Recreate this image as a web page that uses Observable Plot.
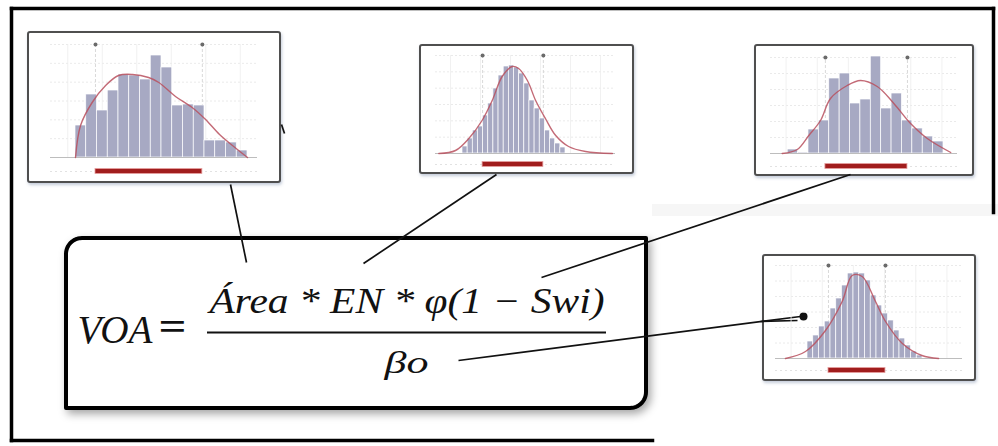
<!DOCTYPE html>
<html>
<head>
<meta charset="utf-8">
<script src="https://cdn.jsdelivr.net/npm/d3@7"></script>
<script src="https://cdn.jsdelivr.net/npm/@observablehq/plot@0.6"></script>
<style>
html,body{margin:0;padding:0;background:#fff;}
#wrap{position:relative;width:998px;height:446px;overflow:hidden;background:#fff;}
#wrap svg{position:absolute;max-width:none;overflow:visible;}
</style>
</head>
<body>
<div id="wrap"></div>
<script>
// ---------------- DATA ----------------
// Formula text
const formulaLHS = "VOA";
const formulaEq = "=";
const formulaNumerator = "Área * EN * φ(1 − Swi)";
const formulaDenominator = "βo";

// Histogram 1 (top-left): bar heights per bin, fitted curve [bin, height], P-range [bin, bin]
const hist1Counts = [32, 63, 47, 67, 83, 82, 78, 102, 90, 52, 53, 52, 17, 17, 15, 7];
const hist1Curve = [[0,0],[0.47,32],[1.55,55],[2.8,72],[4.0,82],[5.3,83],[6.8,80],[7.75,75],[9.3,61],[10.85,50],[12.1,38],[13.4,23],[14.6,12],[16,0]];
const hist1Range = [1.86, 11.8];

// Histogram 2 (top-middle)
const hist2Counts = [7, 15, 23, 27, 38, 50, 65, 78, 87, 88, 86, 80, 70, 53, 45, 35, 23, 15, 10, 6];
const hist2Curve = [[-4.6,0],[-1.36,3],[1.23,15],[3.8,33],[5.77,53],[7.7,77],[9.65,87],[10.9,85],[12.6,73],[14.2,53],[16.1,35],[18.1,18],[20.6,7],[23.9,2],[29.1,0]];
const hist2Range = [3.9, 15.7];

// Histogram 3 (top-right)
const hist3Counts = [4, 1, 24, 33, 75, 80, 50, 54, 97, 45, 60, 33, 25, 17, 12];
const hist3Curve = [[-0.53,0],[0.92,4],[2.03,18],[3.16,33],[4.12,55],[5.73,68],[7.01,73],[8.62,67],[10.22,50],[11.83,30],[13.44,15],[15.7,1]];
const hist3Range = [3.63, 11.53];

// Histogram 4 (bottom-right)
const hist4Counts = [17, 23, 32, 37, 50, 60, 73, 85, 86, 85, 78, 63, 53, 45, 38, 28, 20, 13, 7, 3];
const hist4Curve = [[-3.83,0],[-0.35,7],[3.13,28],[6.03,57],[7.77,83],[9.51,82],[11.83,57],[13.57,37],[16.5,15],[19.9,3],[22.8,0]];
const hist4Range = [3.65, 13.56];

// ---------------- LAYOUT (pixels) ----------------
const W = 998, H = 446;
const layout = {
  border: [
    {x1: 11, y1: 8, x2: 993, y2: 8},
    {x1: 11, y1: 8, x2: 11, y2: 440},
    {x1: 993, y1: 8, x2: 993, y2: 212},
    {x1: 11, y1: 440, x2: 652, y2: 440}
  ],
  band: [{x1: 652, x2: 998, y1: 204, y2: 216}],
  box: {x0: 66, y0: 238, x1: 646, y1: 408, r: 16},
  connectors: [
    {x1: 230, y1: 184, x2: 246, y2: 262},
    {x1: 496, y1: 174, x2: 363, y2: 263},
    {x1: 850, y1: 174, x2: 541, y2: 277},
    {x1: 458, y1: 360, x2: 800, y2: 316},
    {x1: 760, y1: 321, x2: 797, y2: 320},
    {x1: 281, y1: 124, x2: 284, y2: 133}
  ],
  arrowDot: [{x: 803, y: 316}],
  fraction: [{x1: 207, x2: 606, y: 332}],
  texts: {
    lhs: {x: 77, y: 330, size: 40, width: 75, anchor: "start"},
    eq: {x: 172, y: 327, size: 40, width: 28, anchor: "middle"},
    num: {x: 406.5, y: 301, size: 35, width: 395, anchor: "middle"},
    den: {x: 406, y: 362, size: 32, width: 44, anchor: "middle"}
  },
  thumbs: [
    {frame: [28, 32, 280, 182], bx0: 75, bx1: 247, by: 157, top: 44, rangeY: 171, plotX: [50, 257]},
    {frame: [420, 45, 633, 173], bx0: 462, bx1: 565, by: 153, top: 55, rangeY: 164, plotX: [435, 615]},
    {frame: [755, 45, 973, 175], bx0: 787.2, bx1: 943, by: 153, top: 57, rangeY: 166, plotX: [770, 957]},
    {frame: [763, 255, 975, 380], bx0: 807, bx1: 922, by: 358, top: 265, rangeY: 370, plotX: [775, 962]}
  ]
};

const serif = "'Liberation Serif', 'DejaVu Serif', serif";

// rounded box outline (top-left and bottom-right corners rounded)
function boxOutline(b) {
  const pts = [];
  const arc = (cx, cy, a0, a1) => {
    for (let k = 0; k <= 12; k++) {
      const a = a0 + (a1 - a0) * k / 12;
      pts.push([cx + b.r * Math.cos(a), cy + b.r * Math.sin(a)]);
    }
  };
  pts.push([b.x0 + b.r, b.y0]);
  pts.push([b.x1, b.y0]);
  pts.push([b.x1, b.y1 - b.r]);
  arc(b.x1 - b.r, b.y1 - b.r, 0, Math.PI / 2);
  pts.push([b.x0, b.y1]);
  pts.push([b.x0, b.y0 + b.r]);
  arc(b.x0 + b.r, b.y0 + b.r, Math.PI, 1.5 * Math.PI);
  return pts;
}

const frames = layout.thumbs.map(t => ({x1: t.frame[0], y1: t.frame[1], x2: t.frame[2], y2: t.frame[3]}));
const T = layout.texts;

const bg = Plot.plot({
  width: W, height: H,
  marginTop: 0, marginRight: 0, marginBottom: 0, marginLeft: 0,
  x: {domain: [0, W], range: [0, W], axis: null},
  y: {domain: [0, H], range: [0, H], axis: null},
  style: {background: "transparent", overflow: "visible"},
  marks: [
    Plot.rect(layout.band, {x1: "x1", x2: "x2", y1: "y1", y2: "y2", fill: "#f6f6f6"}),
    Plot.link(layout.border, {x1: "x1", y1: "y1", x2: "x2", y2: "y2", stroke: "#000", strokeWidth: 3.5, strokeLinecap: "square"}),
    Plot.rect(frames, {x1: "x1", x2: "x2", y1: "y1", y2: "y2", fill: "white", stroke: "#505050", strokeWidth: 2, rx: 2, ariaLabel: () => "thumb-frame"}),
    Plot.link(layout.connectors, {x1: "x1", y1: "y1", x2: "x2", y2: "y2", stroke: "#111", strokeWidth: 1.7, ariaLabel: () => "connector"}),
    Plot.dot(layout.arrowDot, {x: "x", y: "y", r: 4, fill: "#111"}),
    Plot.ruleY(layout.fraction, {x1: "x1", x2: "x2", y: "y", stroke: "#111", strokeWidth: 2}),
    Plot.text([formulaLHS], {x: T.lhs.x, y: T.lhs.y, text: d => d, fontSize: T.lhs.size, fontFamily: serif, fontStyle: "italic", textAnchor: T.lhs.anchor, fill: "#111", ariaLabel: () => "f-lhs"}),
    Plot.text([formulaEq], {x: T.eq.x, y: T.eq.y, text: d => d, fontSize: T.eq.size, fontFamily: serif, fontWeight: "bold", textAnchor: T.eq.anchor, fill: "#111", ariaLabel: () => "f-eq"}),
    Plot.text([formulaNumerator], {x: T.num.x, y: T.num.y, text: d => d, fontSize: T.num.size, fontFamily: serif, fontStyle: "italic", textAnchor: T.num.anchor, fill: "#111", ariaLabel: () => "f-num"}),
    Plot.text([formulaDenominator], {x: T.den.x, y: T.den.y, text: d => d, fontSize: T.den.size, fontFamily: serif, fontStyle: "italic", textAnchor: T.den.anchor, fill: "#111", ariaLabel: () => "f-den"})
  ]
});

const sel = d3.select(bg);
// shadow filters
const defs = sel.insert("defs", ":first-child");
const f1 = defs.append("filter").attr("id", "boxShadow").attr("x", "-10%").attr("y", "-20%").attr("width", "125%").attr("height", "150%");
f1.append("feDropShadow").attr("dx", 3).attr("dy", 4).attr("stdDeviation", 4).attr("flood-color", "#000").attr("flood-opacity", 0.35);
const f2 = defs.append("filter").attr("id", "frameShadow").attr("x", "-5%").attr("y", "-5%").attr("width", "115%").attr("height", "120%");
f2.append("feDropShadow").attr("dx", 1).attr("dy", 2).attr("stdDeviation", 1.5).attr("flood-color", "#5a6e96").attr("flood-opacity", 0.35);
sel.selectAll('[aria-label="thumb-frame"]').attr("filter", "url(#frameShadow)");

// formula box drawn through the plot's own scales, placed just under the connectors
const sx = bg.scale("x"), sy = bg.scale("y");
const boxLine = d3.line().x(p => sx.apply(p[0])).y(p => sy.apply(p[1]));
const connEl = bg.querySelector('[aria-label="connector"]');
const connGroup = connEl ? connEl.parentNode : null;
const boxPath = document.createElementNS("http://www.w3.org/2000/svg", "path");
boxPath.setAttribute("d", boxLine(boxOutline(layout.box)) + "Z");
boxPath.setAttribute("fill", "white");
boxPath.setAttribute("stroke", "#000");
boxPath.setAttribute("stroke-width", 4);
boxPath.setAttribute("stroke-linejoin", "round");
boxPath.setAttribute("filter", "url(#boxShadow)");
if (connGroup && connGroup.parentNode) connGroup.parentNode.insertBefore(boxPath, connGroup);
else bg.appendChild(boxPath);

[["f-lhs", T.lhs], ["f-eq", T.eq], ["f-num", T.num], ["f-den", T.den]].forEach(([name, cfg]) => {
  sel.selectAll(`[aria-label="${name}"]`).attr("textLength", cfg.width).attr("lengthAdjust", "spacingAndGlyphs");
});
bg.style.left = "0px";
bg.style.top = "0px";
document.getElementById("wrap").appendChild(bg);

// ---------------- thumbnails ----------------
const histData = [
  {counts: hist1Counts, curve: hist1Curve, range: hist1Range},
  {counts: hist2Counts, curve: hist2Curve, range: hist2Range},
  {counts: hist3Counts, curve: hist3Curve, range: hist3Range},
  {counts: hist4Counts, curve: hist4Curve, range: hist4Range}
];

histData.forEach((h, i) => {
  const t = layout.thumbs[i];
  const [fx, fy, fx2, fy2] = t.frame;
  const fw = fx2 - fx, fh = fy2 - fy;
  const n = h.counts.length;
  const binW = (t.bx1 - t.bx0) / n;
  const uL = (t.plotX[0] - t.bx0) / binW, uR = (t.plotX[1] - t.bx0) / binW;
  const topH = t.by - t.top;
  const rangeH = t.by - t.rangeY;
  const gridY = d3.range(0, topH + 1, topH / 6);
  const gridX = d3.range(0, 6).map(k => uL + (uR - uL) * (k + 0.5) / 6);
  const bars = h.counts.map((c, k) => ({k, c}));
  const chart = Plot.plot({
    width: fw, height: fh,
    marginTop: 0, marginRight: 0, marginBottom: 0, marginLeft: 0,
    x: {domain: [0, n], range: [t.bx0 - fx, t.bx1 - fx], axis: null},
    y: {domain: [0, 100], range: [t.by - fy, t.by - fy - 100], axis: null},
    style: {background: "transparent", overflow: "visible"},
    marks: [
      Plot.ruleY(gridY, {x1: uL, x2: uR, y: d => d, stroke: "#e4e4e4", strokeWidth: 0.8, strokeDasharray: "2,2"}),
      Plot.ruleX(gridX, {x: d => d, y1: 0, y2: topH, stroke: "#ededed", strokeWidth: 0.8}),
      Plot.ruleX(h.range, {x: d => d, y1: 0, y2: topH, stroke: "#cfcfcf", strokeWidth: 0.8, strokeDasharray: "3,2"}),
      Plot.ruleY([rangeH], {x1: uL, x2: uR, y: d => d, stroke: "#e2e2e2", strokeWidth: 1, strokeDasharray: "2,3"}),
      Plot.rect(bars, {x1: d => d.k, x2: d => d.k + 1, y1: 0, y2: d => d.c, fill: "#a7a9c3", stroke: "#ffffff", strokeWidth: 0.7}),
      Plot.ruleY([0], {x1: uL, x2: uR, stroke: "#bdbdbd", strokeWidth: 1}),
      Plot.line(h.curve, {x: d => d[0], y: d => d[1], stroke: "#b8505e", strokeWidth: 1.4, strokeOpacity: 0.85, curve: "catmull-rom"}),
      Plot.dot(h.range, {x: d => d, y: topH, r: 2, fill: "#6a6a6a"}),
      Plot.rect([h.range], {x1: d => d[0], x2: d => d[1], y1: rangeH - 2.5, y2: rangeH + 2.5, fill: "#a11d1d", stroke: "#e6a0a0", strokeWidth: 0.8})
    ]
  });
  chart.style.left = fx + "px";
  chart.style.top = fy + "px";
  document.getElementById("wrap").appendChild(chart);
});
</script>
</body>
</html>
